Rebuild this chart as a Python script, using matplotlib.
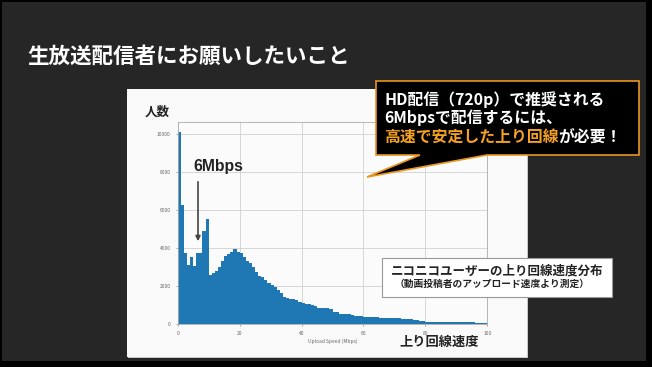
import numpy as np
import matplotlib.pyplot as plt
from matplotlib.patches import Rectangle, Polygon, FancyArrowPatch

plt.rcParams['font.family'] = ['Noto Sans CJK JP', 'DejaVu Sans']

# upload speed histogram, 1 Mbps bins from 0 to 100
bin_edges = list(range(0, 101))
counts = [10130, 6250, 3750, 3120, 3500, 3050, 3750, 3750, 4900, 5500,
          2550, 2670, 2800, 2970, 3290, 3580, 3690, 3810, 3950, 3800,
          3710, 3500, 3300, 3180, 3000, 2750, 2500, 2450, 2300, 2150,
          2050, 1950, 1780, 1600, 1400, 1340, 1300, 1280, 1250, 1150,
          1080, 1060, 1050, 1000, 950, 840, 820, 830, 810, 800,
          630, 610, 520, 510, 500, 500, 440, 430, 420, 400,
          370, 380, 360, 350, 340, 320, 310, 300, 300, 290,
          280, 280, 270, 260, 250, 230, 200, 180, 150, 130,
          110, 100, 100, 95, 95, 90, 85, 85, 80, 80,
          75, 75, 70, 70, 65, 65, 60, 60, 60, 55]
x_ticks = [0, 20, 40, 60, 80, 100]
y_ticks = [0, 2000, 4000, 6000, 8000, 10000]

W, H = 652, 367
def fx(x):
    return x / W
def fy(y):
    return 1 - y / H

fig = plt.figure(figsize=(6.52, 3.67), dpi=100, facecolor='black')

# slide background and white panel
fig.patches.append(Rectangle((fx(2), fy(361)), fx(644), 359 / H, transform=fig.transFigure,
                             facecolor='#262626', edgecolor='none', zorder=-3))
fig.patches.append(Rectangle((fx(128), fy(358)), 400 / W, 268 / H, transform=fig.transFigure,
                             facecolor='#c8c8c8', edgecolor='none', zorder=-2))
fig.patches.append(Rectangle((fx(127), fy(357)), 400 / W, 268 / H, transform=fig.transFigure,
                             facecolor='#f9f9f9', edgecolor='none', zorder=-1))

fig.text(fx(27), fy(56), '生放送配信者にお願いしたいこと', color='white', fontsize=15.5,
         fontweight='bold', va='center', ha='left')

# histogram
ax = fig.add_axes([fx(177.7), fy(323.7), 309.6 / W, 201.4 / H])
ax.set_zorder(1)
ax.set_facecolor('#fbfbfb')
ax.hist(bin_edges[:-1], bins=bin_edges, weights=counts, color='#1f77b4', zorder=2)
ax.set_xlim(0, 100)
ax.set_ylim(0, 10630)
ax.set_xticks(x_ticks)
ax.set_yticks(y_ticks)
ax.tick_params(labelsize=3.5, colors='#666666', length=1.5, width=0.4)
ax.grid(True, color='#d0d0d0', linewidth=0.6, zorder=0)
ax.set_axisbelow(True)
for s in ax.spines.values():
    s.set_color('#aaaaaa')
    s.set_linewidth(0.6)
ax.set_xlabel('Upload Speed (Mbps)', fontsize=3.5, color='#666666', labelpad=2)

fig.text(fx(145), fy(112), '人数', fontsize=9, fontweight='bold', color='#222222', va='center')
fig.text(fx(399), fy(342), '上り回線速度', fontsize=9.5, fontweight='bold', color='#222222', va='center')
fig.text(fx(193), fy(166), '6Mbps', fontsize=11.3, fontweight='bold', color='#222222', va='center',
         family=['Liberation Sans', 'DejaVu Sans'], zorder=5)
fig.patches.append(FancyArrowPatch(
    (fx(198), fy(179)), (fx(198), fy(244)), transform=fig.transFigure,
    arrowstyle='-|>', mutation_scale=7, color='#444444', linewidth=1.2, zorder=5))

# inset caption box
fig.patches.append(Rectangle((fx(382), fy(297)), 230 / W, 39 / H, transform=fig.transFigure,
                             facecolor='white', edgecolor='#999999', linewidth=0.8, zorder=6))
fig.text(fx(497), fy(271), 'ニコニコユーザーの上り回線速度分布', fontsize=9, fontweight='bold',
         color='#222222', ha='center', va='center', zorder=7)
fig.text(fx(492), fy(284), '（動画投稿者のアップロード速度より測定）', fontsize=7, fontweight='bold',
         color='#222222', ha='center', va='center', zorder=7)

# speech callout
callout = [(376, 81), (639, 81), (639, 155), (487, 155), (367, 177), (420, 155), (376, 155)]
fig.patches.append(Polygon([(fx(x), fy(y)) for x, y in callout], closed=True, transform=fig.transFigure,
                           facecolor='black', edgecolor='#e8961e', linewidth=1.2, zorder=8))
orange = '#f5a122'
fig.text(fx(384), fy(100), 'HD配信（720p）で推奨される', fontsize=11.4, fontweight='bold',
         color='white', va='center', zorder=9)
fig.text(fx(384), fy(118), '6Mbpsで配信するには、', fontsize=11.4, fontweight='bold',
         color='white', va='center', zorder=9)
t1 = fig.text(fx(384), fy(137), '高速で安定した上り回線', fontsize=11.4, fontweight='bold',
              color=orange, va='center', zorder=9)
r = fig.canvas.get_renderer()
bb = t1.get_window_extent(renderer=r)
fig.text(bb.x1 / fig.bbox.width, fy(137), 'が必要！', fontsize=11.4, fontweight='bold',
         color='white', va='center', zorder=9)

fig.savefig('out.png', dpi=100, facecolor=fig.get_facecolor())
